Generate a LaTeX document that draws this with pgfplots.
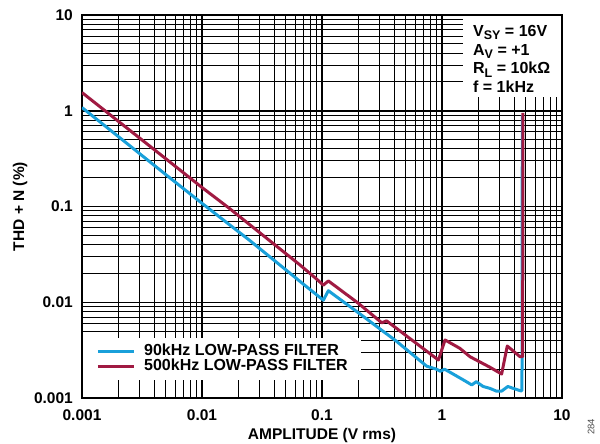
\documentclass[border=0pt]{standalone}
\usepackage{fontspec}
\setmainfont{Liberation Sans}
\usepackage{pgfplots}
\pgfplotsset{compat=1.18}

\definecolor{lp90}{RGB}{25,160,218}
\definecolor{lp500}{RGB}{160,26,66}
\newcommand{\sub}[1]{\raisebox{-3.5pt}{\fontsize{12.5}{12.5}\selectfont #1}}

\begin{document}
\begin{tikzpicture}
\useasboundingbox (-82pt,-46pt) rectangle (518pt,398pt);
\begin{axis}[
  at={(0pt,0pt)}, anchor=south west,
  scale only axis, width=480pt, height=383pt,
  xmode=log, ymode=log,
  xmin=0.001, xmax=10, ymin=0.001, ymax=10,
  xtick={0.001,0.01,0.1,1,10}, xticklabels={0.001,0.01,0.1,1,10},
  ytick={0.001,0.01,0.1,1,10}, yticklabels={0.001,0.01,0.1,1,10},
  minor xtick={0.002,0.003,0.004,0.005,0.006,0.007,0.008,0.009,
               0.02,0.03,0.04,0.05,0.06,0.07,0.08,0.09,
               0.2,0.3,0.4,0.5,0.6,0.7,0.8,0.9,
               2,3,4,5,6,7,8,9},
  minor ytick={0.002,0.003,0.004,0.005,0.006,0.007,0.008,0.009,
               0.02,0.03,0.04,0.05,0.06,0.07,0.08,0.09,
               0.2,0.3,0.4,0.5,0.6,0.7,0.8,0.9,
               2,3,4,5,6,7,8,9},
  grid=both,
  major grid style={black, line width=1.5pt},
  minor grid style={black, line width=1pt},
  axis line style={black, line width=2pt},
  major tick length=0pt, minor tick length=0pt,
  /pgf/number format/assume math mode=true,
  tick label style={font=\fontsize{15.5}{15.5}\selectfont\bfseries},
  xticklabel style={anchor=center, yshift=-17pt},
  yticklabel style={anchor=east, inner sep=0pt, xshift=-9pt},
  xlabel={AMPLITUDE (V rms)},
  ylabel={THD + N (\%)},
  label style={font=\fontsize{15.5}{15.5}\selectfont\bfseries},
  xlabel style={at={(axis description cs:0.5,-0.099)}, anchor=center},
  ylabel style={at={(axis description cs:-0.129,0.5)}, anchor=center},
  legend style={draw=none, fill=white,
    at={(axis description cs:0,0)}, anchor=south west,
    xshift=1pt, yshift=18pt,
    inner xsep=13pt, inner ysep=6pt, row sep=0pt,
    font=\fontsize{16}{16}\selectfont\bfseries,
    nodes={inner sep=0pt, text height=11.5pt, text depth=3.5pt},
    /tikz/every odd column/.append style={column sep=8.5pt}},
  legend cell align=left,
  legend image code/.code={\draw[#1, line width=3.5pt] (0pt,0pt) -- (36pt,0pt);},
]
\addplot[lp90, line width=3pt, line join=round] coordinates {
  (0.001,1.08) (0.002,0.54) (0.005,0.215) (0.01,0.108) (0.0251,0.044)
  (0.05,0.0218) (0.0656,0.0165) (0.09,0.012) (0.1026,0.0105) (0.113,0.0132)
  (0.2,0.0078) (0.419,0.0039) (0.745,0.00215) (0.9,0.002) (0.97,0.0019)
  (1.05,0.002) (1.2,0.00182) (1.5,0.00155) (1.77,0.00137) (1.93,0.00148)
  (2.2,0.00132) (2.51,0.00126) (2.84,0.00118) (3.14,0.00118) (3.54,0.00132)
  (4.0,0.00125) (4.5,0.00119) (4.64,0.00119) (4.67,0.9)
};
\addlegendentry{90kHz LOW-PASS FILTER}
\addplot[lp500, line width=3pt, line join=round] coordinates {
  (0.001,1.55) (0.002,0.78) (0.005,0.315) (0.01,0.158) (0.0165,0.098)
  (0.0656,0.0245) (0.09,0.0175) (0.1026,0.0151) (0.113,0.0167) (0.2,0.0098)
  (0.315,0.0061) (0.345,0.0064) (0.5,0.0045) (0.934,0.00249) (1.06,0.00404)
  (1.41,0.0033) (1.71,0.0027) (2.5,0.0021) (3.14,0.00178) (3.5,0.00349)
  (4.47,0.0027) (4.70,0.0027) (4.73,0.95)
};
\addlegendentry{500kHz LOW-PASS FILTER}
\node[fill=white, anchor=north east, inner sep=0pt,
      minimum width=98pt, minimum height=81pt]
  at ([xshift=-1pt,yshift=-1pt]rel axis cs:1,1) {};
\node[anchor=north west, align=left, inner sep=0pt,
      font=\fontsize{16}{18.7}\selectfont\bfseries]
  at ([xshift=-89pt,yshift=-10pt]rel axis cs:1,1)
  {V\sub{SY} = 16V\\A\sub{V} = +1\\R\sub{L} = 10kΩ\\f = 1kHz};
\end{axis}
\node[rotate=90, inner sep=0pt, text=black!70,
      font=\fontsize{9.5}{9.5}\selectfont] at (509pt,-29pt) {284};
\end{tikzpicture}
\end{document}
